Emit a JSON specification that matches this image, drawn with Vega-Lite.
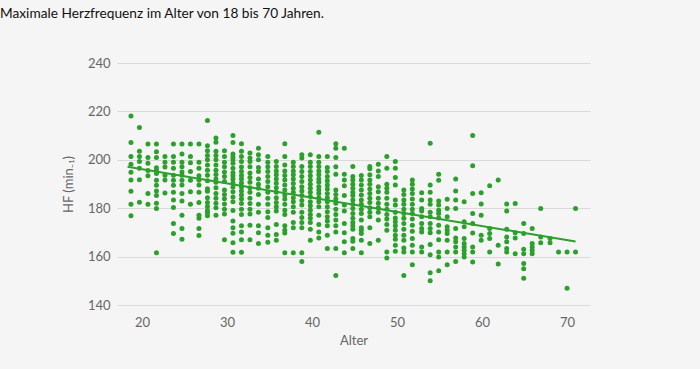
{
"$schema":"https://vega.github.io/schema/vega-lite/v6.json",
"width":473,"height":242,
"autosize":"none",
"padding":{"left":117,"top":63,"right":110,"bottom":64},
"background":"#f5f5f5",
"title":{"text":"Maximale Herzfrequenz im Alter von 18 bis 70 Jahren.","anchor":"start","frame":"group","dx":-117,"offset":36,"fontSize":13.7,"fontWeight":"normal","font":"Lato","color":"#111111"},
"config":{"view":{"stroke":null},"font":"Lato"},
"datasets":{
"fit":[{"Alter":18.3,"HF":197.1},{"Alter":71.0,"HF":166.2}],
"pts":[
{"Alter":18.7,"HF":218.1},{"Alter":18.7,"HF":207.2},{"Alter":18.7,"HF":201.4},{"Alter":18.7,"HF":198.2},{"Alter":18.7,"HF":194.9},{"Alter":18.7,"HF":191.7},{"Alter":18.7,"HF":187.0},{"Alter":18.7,"HF":181.6},{"Alter":18.7,"HF":176.9},
{"Alter":19.7,"HF":213.3},{"Alter":19.7,"HF":203.5},{"Alter":19.7,"HF":201.4},{"Alter":19.7,"HF":199.3},{"Alter":19.7,"HF":196.5},{"Alter":19.7,"HF":191.8},{"Alter":19.7,"HF":182.5},
{"Alter":20.7,"HF":206.5},{"Alter":20.7,"HF":201.0},{"Alter":20.7,"HF":198.6},{"Alter":20.7,"HF":195.6},{"Alter":20.7,"HF":193.4},{"Alter":20.7,"HF":186.1},{"Alter":20.7,"HF":181.6},
{"Alter":21.7,"HF":206.5},{"Alter":21.7,"HF":203.3},{"Alter":21.7,"HF":201.0},{"Alter":21.7,"HF":196.7},{"Alter":21.7,"HF":195.7},{"Alter":21.7,"HF":194.3},{"Alter":21.7,"HF":191.6},{"Alter":21.7,"HF":189.5},{"Alter":21.7,"HF":187.1},{"Alter":21.7,"HF":185.2},{"Alter":21.7,"HF":182.0},{"Alter":21.7,"HF":179.9},{"Alter":21.7,"HF":161.6},
{"Alter":22.7,"HF":201.4},{"Alter":22.7,"HF":199.0},{"Alter":22.7,"HF":197.0},{"Alter":22.7,"HF":193.6},{"Alter":22.7,"HF":191.7},{"Alter":22.7,"HF":186.3},
{"Alter":23.7,"HF":206.5},{"Alter":23.7,"HF":201.4},{"Alter":23.7,"HF":199.0},{"Alter":23.7,"HF":196.5},{"Alter":23.7,"HF":193.6},{"Alter":23.7,"HF":191.6},{"Alter":23.7,"HF":189.5},{"Alter":23.7,"HF":186.6},{"Alter":23.7,"HF":183.4},{"Alter":23.7,"HF":180.3},{"Alter":23.7,"HF":173.7},{"Alter":23.7,"HF":169.5},
{"Alter":24.7,"HF":206.5},{"Alter":24.7,"HF":202.4},{"Alter":24.7,"HF":199.0},{"Alter":24.7,"HF":197.1},{"Alter":24.7,"HF":195.0},{"Alter":24.7,"HF":193.6},{"Alter":24.7,"HF":191.6},{"Alter":24.7,"HF":189.6},{"Alter":24.7,"HF":186.1},{"Alter":24.7,"HF":183.0},{"Alter":24.7,"HF":177.1},{"Alter":24.7,"HF":171.6},{"Alter":24.7,"HF":167.2},
{"Alter":25.7,"HF":206.5},{"Alter":25.7,"HF":201.4},{"Alter":25.7,"HF":198.8},{"Alter":25.7,"HF":195.2},{"Alter":25.7,"HF":191.6},{"Alter":25.7,"HF":186.8},{"Alter":25.7,"HF":181.6},
{"Alter":26.7,"HF":206.5},{"Alter":26.7,"HF":199.0},{"Alter":26.7,"HF":196.5},{"Alter":26.7,"HF":193.4},{"Alter":26.7,"HF":191.7},{"Alter":26.7,"HF":189.6},{"Alter":26.7,"HF":186.6},{"Alter":26.7,"HF":182.4},{"Alter":26.7,"HF":177.1},{"Alter":26.7,"HF":175.8},{"Alter":26.7,"HF":171.6},{"Alter":26.7,"HF":168.7},
{"Alter":27.7,"HF":216.2},{"Alter":27.7,"HF":205.8},{"Alter":27.7,"HF":203.7},{"Alter":27.7,"HF":201.8},{"Alter":27.7,"HF":200.0},{"Alter":27.7,"HF":197.9},{"Alter":27.7,"HF":195.7},{"Alter":27.7,"HF":193.6},{"Alter":27.7,"HF":191.3},{"Alter":27.7,"HF":188.0},{"Alter":27.7,"HF":187.0},{"Alter":27.7,"HF":184.3},{"Alter":27.7,"HF":182.4},{"Alter":27.7,"HF":180.7},{"Alter":27.7,"HF":179.1},{"Alter":27.7,"HF":178.1},{"Alter":27.7,"HF":176.9},
{"Alter":28.7,"HF":209.0},{"Alter":28.7,"HF":207.3},{"Alter":28.7,"HF":203.5},{"Alter":28.7,"HF":201.8},{"Alter":28.7,"HF":200.0},{"Alter":28.7,"HF":197.9},{"Alter":28.7,"HF":195.7},{"Alter":28.7,"HF":193.9},{"Alter":28.7,"HF":192.1},{"Alter":28.7,"HF":190.7},{"Alter":28.7,"HF":188.5},{"Alter":28.7,"HF":186.1},{"Alter":28.7,"HF":184.1},{"Alter":28.7,"HF":182.0},{"Alter":28.7,"HF":180.2},{"Alter":28.7,"HF":177.1},
{"Alter":29.7,"HF":203.7},{"Alter":29.7,"HF":201.4},{"Alter":29.7,"HF":199.0},{"Alter":29.7,"HF":197.1},{"Alter":29.7,"HF":195.0},{"Alter":29.7,"HF":193.1},{"Alter":29.7,"HF":191.0},{"Alter":29.7,"HF":187.5},{"Alter":29.7,"HF":185.7},{"Alter":29.7,"HF":183.9},{"Alter":29.7,"HF":181.7},{"Alter":29.7,"HF":179.6},{"Alter":29.7,"HF":177.6},{"Alter":29.7,"HF":167.0},
{"Alter":30.7,"HF":210.0},{"Alter":30.7,"HF":207.2},{"Alter":30.7,"HF":202.4},{"Alter":30.7,"HF":201.2},{"Alter":30.7,"HF":200.0},{"Alter":30.7,"HF":198.6},{"Alter":30.7,"HF":196.5},{"Alter":30.7,"HF":194.6},{"Alter":30.7,"HF":193.4},{"Alter":30.7,"HF":192.1},{"Alter":30.7,"HF":190.4},{"Alter":30.7,"HF":188.8},{"Alter":30.7,"HF":186.8},{"Alter":30.7,"HF":184.6},{"Alter":30.7,"HF":182.7},{"Alter":30.7,"HF":179.1},{"Alter":30.7,"HF":174.7},{"Alter":30.7,"HF":171.9},{"Alter":30.7,"HF":169.7},{"Alter":30.7,"HF":165.7},{"Alter":30.7,"HF":161.8},
{"Alter":31.7,"HF":206.6},{"Alter":31.7,"HF":203.5},{"Alter":31.7,"HF":201.4},{"Alter":31.7,"HF":199.3},{"Alter":31.7,"HF":197.0},{"Alter":31.7,"HF":195.2},{"Alter":31.7,"HF":193.5},{"Alter":31.7,"HF":192.1},{"Alter":31.7,"HF":190.4},{"Alter":31.7,"HF":188.8},{"Alter":31.7,"HF":187.1},{"Alter":31.7,"HF":185.5},{"Alter":31.7,"HF":183.8},{"Alter":31.7,"HF":181.9},{"Alter":31.7,"HF":179.6},{"Alter":31.7,"HF":177.4},{"Alter":31.7,"HF":172.7},{"Alter":31.7,"HF":170.2},{"Alter":31.7,"HF":167.0},{"Alter":31.7,"HF":161.8},
{"Alter":32.7,"HF":202.8},{"Alter":32.7,"HF":200.7},{"Alter":32.7,"HF":199.3},{"Alter":32.7,"HF":197.1},{"Alter":32.7,"HF":194.5},{"Alter":32.7,"HF":192.7},{"Alter":32.7,"HF":190.7},{"Alter":32.7,"HF":188.5},{"Alter":32.7,"HF":186.6},{"Alter":32.7,"HF":184.1},{"Alter":32.7,"HF":181.9},{"Alter":32.7,"HF":179.6},{"Alter":32.7,"HF":177.6},{"Alter":32.7,"HF":173.0},{"Alter":32.7,"HF":167.0},
{"Alter":33.7,"HF":204.8},{"Alter":33.7,"HF":202.1},{"Alter":33.7,"HF":200.0},{"Alter":33.7,"HF":196.8},{"Alter":33.7,"HF":195.2},{"Alter":33.7,"HF":192.1},{"Alter":33.7,"HF":189.9},{"Alter":33.7,"HF":188.2},{"Alter":33.7,"HF":185.7},{"Alter":33.7,"HF":181.6},{"Alter":33.7,"HF":178.3},{"Alter":33.7,"HF":172.7},{"Alter":33.7,"HF":169.9},{"Alter":33.7,"HF":165.4},
{"Alter":34.8,"HF":201.4},{"Alter":34.8,"HF":199.0},{"Alter":34.8,"HF":197.1},{"Alter":34.8,"HF":195.2},{"Alter":34.8,"HF":193.1},{"Alter":34.8,"HF":191.0},{"Alter":34.8,"HF":188.9},{"Alter":34.8,"HF":186.6},{"Alter":34.8,"HF":184.1},{"Alter":34.8,"HF":181.6},{"Alter":34.8,"HF":178.5},{"Alter":34.8,"HF":176.2},{"Alter":34.8,"HF":171.9},{"Alter":34.8,"HF":168.8},{"Alter":34.8,"HF":165.9},
{"Alter":35.8,"HF":199.3},{"Alter":35.8,"HF":197.2},{"Alter":35.8,"HF":195.4},{"Alter":35.8,"HF":193.8},{"Alter":35.8,"HF":192.1},{"Alter":35.8,"HF":190.3},{"Alter":35.8,"HF":188.5},{"Alter":35.8,"HF":186.6},{"Alter":35.8,"HF":184.3},{"Alter":35.8,"HF":182.4},{"Alter":35.8,"HF":180.6},{"Alter":35.8,"HF":178.8},{"Alter":35.8,"HF":173.3},{"Alter":35.8,"HF":169.1},{"Alter":35.8,"HF":166.8},
{"Alter":36.8,"HF":206.6},{"Alter":36.8,"HF":201.4},{"Alter":36.8,"HF":197.9},{"Alter":36.8,"HF":195.4},{"Alter":36.8,"HF":193.5},{"Alter":36.8,"HF":191.7},{"Alter":36.8,"HF":189.6},{"Alter":36.8,"HF":187.5},{"Alter":36.8,"HF":185.5},{"Alter":36.8,"HF":183.8},{"Alter":36.8,"HF":181.6},{"Alter":36.8,"HF":179.2},{"Alter":36.8,"HF":177.4},{"Alter":36.8,"HF":172.7},{"Alter":36.8,"HF":170.9},{"Alter":36.8,"HF":169.8},{"Alter":36.8,"HF":161.6},
{"Alter":37.8,"HF":199.0},{"Alter":37.8,"HF":197.2},{"Alter":37.8,"HF":195.4},{"Alter":37.8,"HF":193.8},{"Alter":37.8,"HF":192.1},{"Alter":37.8,"HF":190.2},{"Alter":37.8,"HF":188.2},{"Alter":37.8,"HF":186.6},{"Alter":37.8,"HF":184.3},{"Alter":37.8,"HF":182.7},{"Alter":37.8,"HF":180.6},{"Alter":37.8,"HF":178.3},{"Alter":37.8,"HF":174.1},{"Alter":37.8,"HF":171.9},{"Alter":37.8,"HF":161.6},
{"Alter":38.8,"HF":202.1},{"Alter":38.8,"HF":200.7},{"Alter":38.8,"HF":197.2},{"Alter":38.8,"HF":195.2},{"Alter":38.8,"HF":193.1},{"Alter":38.8,"HF":191.0},{"Alter":38.8,"HF":188.9},{"Alter":38.8,"HF":187.1},{"Alter":38.8,"HF":185.2},{"Alter":38.8,"HF":183.2},{"Alter":38.8,"HF":181.3},{"Alter":38.8,"HF":178.3},{"Alter":38.8,"HF":176.2},{"Alter":38.8,"HF":174.1},{"Alter":38.8,"HF":171.9},{"Alter":38.8,"HF":161.6},{"Alter":38.8,"HF":158.0},
{"Alter":39.8,"HF":202.1},{"Alter":39.8,"HF":199.0},{"Alter":39.8,"HF":197.2},{"Alter":39.8,"HF":195.2},{"Alter":39.8,"HF":193.4},{"Alter":39.8,"HF":191.7},{"Alter":39.8,"HF":189.9},{"Alter":39.8,"HF":188.2},{"Alter":39.8,"HF":186.6},{"Alter":39.8,"HF":184.8},{"Alter":39.8,"HF":182.7},{"Alter":39.8,"HF":181.0},{"Alter":39.8,"HF":179.2},{"Alter":39.8,"HF":177.4},{"Alter":39.8,"HF":175.8},{"Alter":39.8,"HF":174.1},{"Alter":39.8,"HF":171.3},{"Alter":39.8,"HF":166.8},
{"Alter":40.8,"HF":211.4},{"Alter":40.8,"HF":201.4},{"Alter":40.8,"HF":199.0},{"Alter":40.8,"HF":197.2},{"Alter":40.8,"HF":195.4},{"Alter":40.8,"HF":193.8},{"Alter":40.8,"HF":192.1},{"Alter":40.8,"HF":190.7},{"Alter":40.8,"HF":188.9},{"Alter":40.8,"HF":187.5},{"Alter":40.8,"HF":186.1},{"Alter":40.8,"HF":184.3},{"Alter":40.8,"HF":182.7},{"Alter":40.8,"HF":180.6},{"Alter":40.8,"HF":177.1},{"Alter":40.8,"HF":173.3},{"Alter":40.8,"HF":170.2},{"Alter":40.8,"HF":167.7},
{"Alter":41.8,"HF":201.4},{"Alter":41.8,"HF":196.8},{"Alter":41.8,"HF":195.2},{"Alter":41.8,"HF":193.1},{"Alter":41.8,"HF":191.3},{"Alter":41.8,"HF":189.6},{"Alter":41.8,"HF":187.9},{"Alter":41.8,"HF":186.1},{"Alter":41.8,"HF":184.3},{"Alter":41.8,"HF":182.7},{"Alter":41.8,"HF":180.6},{"Alter":41.8,"HF":178.5},{"Alter":41.8,"HF":176.5},{"Alter":41.8,"HF":174.7},{"Alter":41.8,"HF":172.7},{"Alter":41.8,"HF":168.8},{"Alter":41.8,"HF":163.3},
{"Alter":42.8,"HF":206.6},{"Alter":42.8,"HF":204.8},{"Alter":42.8,"HF":201.0},{"Alter":42.8,"HF":197.1},{"Alter":42.8,"HF":194.0},{"Alter":42.8,"HF":187.5},{"Alter":42.8,"HF":185.7},{"Alter":42.8,"HF":183.8},{"Alter":42.8,"HF":182.0},{"Alter":42.8,"HF":179.6},{"Alter":42.8,"HF":177.4},{"Alter":42.8,"HF":175.1},{"Alter":42.8,"HF":172.7},{"Alter":42.8,"HF":170.2},{"Alter":42.8,"HF":163.3},{"Alter":42.8,"HF":152.2},
{"Alter":43.8,"HF":204.8},{"Alter":43.8,"HF":194.0},{"Alter":43.8,"HF":191.7},{"Alter":43.8,"HF":189.3},{"Alter":43.8,"HF":185.2},{"Alter":43.8,"HF":181.3},{"Alter":43.8,"HF":178.8},{"Alter":43.8,"HF":173.7},{"Alter":43.8,"HF":169.9},{"Alter":43.8,"HF":166.1},{"Alter":43.8,"HF":161.6},
{"Alter":44.8,"HF":197.2},{"Alter":44.8,"HF":193.1},{"Alter":44.8,"HF":191.7},{"Alter":44.8,"HF":189.9},{"Alter":44.8,"HF":188.2},{"Alter":44.8,"HF":186.6},{"Alter":44.8,"HF":185.2},{"Alter":44.8,"HF":183.4},{"Alter":44.8,"HF":181.6},{"Alter":44.8,"HF":179.9},{"Alter":44.8,"HF":177.8},{"Alter":44.8,"HF":175.8},{"Alter":44.8,"HF":174.1},{"Alter":44.8,"HF":172.7},{"Alter":44.8,"HF":171.3},{"Alter":44.8,"HF":167.5},{"Alter":44.8,"HF":166.3},{"Alter":44.8,"HF":163.3},
{"Alter":45.8,"HF":193.5},{"Alter":45.8,"HF":191.7},{"Alter":45.8,"HF":189.6},{"Alter":45.8,"HF":187.5},{"Alter":45.8,"HF":185.5},{"Alter":45.8,"HF":183.4},{"Alter":45.8,"HF":181.6},{"Alter":45.8,"HF":179.6},{"Alter":45.8,"HF":177.8},{"Alter":45.8,"HF":175.1},{"Alter":45.8,"HF":171.9},{"Alter":45.8,"HF":170.9},{"Alter":45.8,"HF":169.5},{"Alter":45.8,"HF":166.8},{"Alter":45.8,"HF":161.6},
{"Alter":46.8,"HF":197.2},{"Alter":46.8,"HF":196.3},{"Alter":46.8,"HF":193.8},{"Alter":46.8,"HF":191.7},{"Alter":46.8,"HF":189.9},{"Alter":46.8,"HF":187.9},{"Alter":46.8,"HF":186.1},{"Alter":46.8,"HF":184.1},{"Alter":46.8,"HF":182.4},{"Alter":46.8,"HF":180.2},{"Alter":46.8,"HF":178.3},{"Alter":46.8,"HF":176.5},{"Alter":46.8,"HF":171.9},{"Alter":46.8,"HF":165.4},
{"Alter":47.8,"HF":198.2},{"Alter":47.8,"HF":195.4},{"Alter":47.8,"HF":193.1},{"Alter":47.8,"HF":188.9},{"Alter":47.8,"HF":186.8},{"Alter":47.8,"HF":184.1},{"Alter":47.8,"HF":182.0},{"Alter":47.8,"HF":180.2},{"Alter":47.8,"HF":178.3},{"Alter":47.8,"HF":175.1},{"Alter":47.8,"HF":166.8},
{"Alter":48.8,"HF":201.4},{"Alter":48.8,"HF":196.5},{"Alter":48.8,"HF":189.9},{"Alter":48.8,"HF":188.2},{"Alter":48.8,"HF":186.6},{"Alter":48.8,"HF":184.1},{"Alter":48.8,"HF":181.6},{"Alter":48.8,"HF":179.6},{"Alter":48.8,"HF":177.4},{"Alter":48.8,"HF":175.5},{"Alter":48.8,"HF":173.3},{"Alter":48.8,"HF":170.9},{"Alter":48.8,"HF":161.9},{"Alter":48.8,"HF":159.4},
{"Alter":49.8,"HF":199.3},{"Alter":49.8,"HF":196.5},{"Alter":49.8,"HF":192.7},{"Alter":49.8,"HF":189.6},{"Alter":49.8,"HF":183.4},{"Alter":49.8,"HF":181.3},{"Alter":49.8,"HF":178.3},{"Alter":49.8,"HF":176.0},{"Alter":49.8,"HF":174.4},{"Alter":49.8,"HF":172.7},{"Alter":49.8,"HF":170.9},{"Alter":49.8,"HF":168.8},{"Alter":49.8,"HF":167.2},{"Alter":49.8,"HF":164.7},{"Alter":49.8,"HF":162.2},
{"Alter":50.8,"HF":187.5},{"Alter":50.8,"HF":185.7},{"Alter":50.8,"HF":183.4},{"Alter":50.8,"HF":181.6},{"Alter":50.8,"HF":179.6},{"Alter":50.8,"HF":177.8},{"Alter":50.8,"HF":175.8},{"Alter":50.8,"HF":173.7},{"Alter":50.8,"HF":171.3},{"Alter":50.8,"HF":168.8},{"Alter":50.8,"HF":166.8},{"Alter":50.8,"HF":163.6},{"Alter":50.8,"HF":161.9},{"Alter":50.8,"HF":152.2},
{"Alter":51.8,"HF":191.7},{"Alter":51.8,"HF":189.9},{"Alter":51.8,"HF":187.9},{"Alter":51.8,"HF":186.1},{"Alter":51.8,"HF":183.8},{"Alter":51.8,"HF":181.6},{"Alter":51.8,"HF":179.6},{"Alter":51.8,"HF":177.8},{"Alter":51.8,"HF":175.5},{"Alter":51.8,"HF":173.0},{"Alter":51.8,"HF":170.5},{"Alter":51.8,"HF":167.5},{"Alter":51.8,"HF":164.7},{"Alter":51.8,"HF":161.9},{"Alter":51.8,"HF":156.6},
{"Alter":52.9,"HF":186.4},{"Alter":52.9,"HF":183.4},{"Alter":52.9,"HF":179.9},{"Alter":52.9,"HF":178.8},{"Alter":52.9,"HF":176.5},{"Alter":52.9,"HF":173.7},{"Alter":52.9,"HF":171.6},{"Alter":52.9,"HF":170.2},{"Alter":52.9,"HF":164.0},{"Alter":52.9,"HF":161.9},
{"Alter":53.9,"HF":206.8},{"Alter":53.9,"HF":189.6},{"Alter":53.9,"HF":186.6},{"Alter":53.9,"HF":183.4},{"Alter":53.9,"HF":181.6},{"Alter":53.9,"HF":178.3},{"Alter":53.9,"HF":176.5},{"Alter":53.9,"HF":173.7},{"Alter":53.9,"HF":171.6},{"Alter":53.9,"HF":169.9},{"Alter":53.9,"HF":165.0},{"Alter":53.9,"HF":160.8},{"Alter":53.9,"HF":153.3},{"Alter":53.9,"HF":150.0},
{"Alter":54.9,"HF":194.0},{"Alter":54.9,"HF":191.6},{"Alter":54.9,"HF":183.0},{"Alter":54.9,"HF":181.3},{"Alter":54.9,"HF":179.2},{"Alter":54.9,"HF":177.8},{"Alter":54.9,"HF":176.0},{"Alter":54.9,"HF":173.0},{"Alter":54.9,"HF":170.2},{"Alter":54.9,"HF":167.0},{"Alter":54.9,"HF":161.9},{"Alter":54.9,"HF":159.8},{"Alter":54.9,"HF":154.2},
{"Alter":55.9,"HF":183.7},{"Alter":55.9,"HF":179.9},{"Alter":55.9,"HF":176.5},{"Alter":55.9,"HF":172.3},{"Alter":55.9,"HF":170.9},{"Alter":55.9,"HF":169.5},{"Alter":55.9,"HF":166.8},{"Alter":55.9,"HF":161.9},{"Alter":55.9,"HF":156.6},
{"Alter":56.9,"HF":192.1},{"Alter":56.9,"HF":187.1},{"Alter":56.9,"HF":183.4},{"Alter":56.9,"HF":179.9},{"Alter":56.9,"HF":171.6},{"Alter":56.9,"HF":167.7},{"Alter":56.9,"HF":166.1},{"Alter":56.9,"HF":164.0},{"Alter":56.9,"HF":161.9},{"Alter":56.9,"HF":158.0},
{"Alter":57.9,"HF":182.7},{"Alter":57.9,"HF":174.4},{"Alter":57.9,"HF":172.3},{"Alter":57.9,"HF":167.5},{"Alter":57.9,"HF":165.4},{"Alter":57.9,"HF":164.0},{"Alter":57.9,"HF":162.6},{"Alter":57.9,"HF":161.2},{"Alter":57.9,"HF":159.8},
{"Alter":58.9,"HF":210.0},{"Alter":58.9,"HF":197.5},{"Alter":58.9,"HF":186.1},{"Alter":58.9,"HF":177.8},{"Alter":58.9,"HF":173.7},{"Alter":58.9,"HF":169.8},{"Alter":58.9,"HF":164.0},{"Alter":58.9,"HF":161.9},{"Alter":58.9,"HF":157.8},
{"Alter":59.9,"HF":186.4},{"Alter":59.9,"HF":181.7},{"Alter":59.9,"HF":177.1},{"Alter":59.9,"HF":168.8},{"Alter":59.9,"HF":166.8},
{"Alter":60.9,"HF":189.3},{"Alter":60.9,"HF":171.6},{"Alter":60.9,"HF":169.5},{"Alter":60.9,"HF":167.5},{"Alter":60.9,"HF":161.9},
{"Alter":61.9,"HF":191.7},{"Alter":61.9,"HF":164.7},{"Alter":61.9,"HF":156.9},
{"Alter":62.9,"HF":181.7},{"Alter":62.9,"HF":178.8},{"Alter":62.9,"HF":171.3},{"Alter":62.9,"HF":168.1},{"Alter":62.9,"HF":166.1},{"Alter":62.9,"HF":163.3},{"Alter":62.9,"HF":161.9},
{"Alter":63.9,"HF":181.9},{"Alter":63.9,"HF":169.9},{"Alter":63.9,"HF":167.7},{"Alter":63.9,"HF":161.2},
{"Alter":64.9,"HF":173.7},{"Alter":64.9,"HF":169.5},{"Alter":64.9,"HF":163.0},{"Alter":64.9,"HF":161.2},{"Alter":64.9,"HF":157.1},{"Alter":64.9,"HF":155.0},{"Alter":64.9,"HF":151.1},
{"Alter":65.9,"HF":171.6},{"Alter":65.9,"HF":165.4},{"Alter":65.9,"HF":164.0},{"Alter":65.9,"HF":162.6},{"Alter":65.9,"HF":161.2},
{"Alter":66.9,"HF":179.9},{"Alter":66.9,"HF":168.1},{"Alter":66.9,"HF":165.7},
{"Alter":68.0,"HF":167.5},{"Alter":68.0,"HF":165.7},
{"Alter":69.0,"HF":161.9},
{"Alter":70.0,"HF":161.9},{"Alter":70.0,"HF":146.9},
{"Alter":71.0,"HF":179.9},{"Alter":71.0,"HF":161.9}
]},
"encoding":{
"x":{"field":"Alter","type":"quantitative","scale":{"domain":[17.06,72.7],"nice":false,"zero":false},
"axis":{"title":"Alter","values":[20,30,40,50,60,70],"grid":false,"ticks":false,"domain":false,"labelPadding":11,"labelFontSize":13,"labelColor":"#666666","titleFontSize":13,"titleFontWeight":"normal","titleColor":"#666666","titlePadding":5,"labelFont":"Lato","titleFont":"Lato"}},
"y":{"field":"HF","type":"quantitative","scale":{"domain":[140,240],"nice":false,"zero":false},
"axis":{"title":"HF (min₋₁)","values":[140,160,180,200,220,240],"grid":true,"gridColor":"#d9d9d9","gridWidth":1,"ticks":false,"domain":false,"labelPadding":7,"labelFontSize":13,"labelColor":"#666666","titleFontSize":13,"titleFontWeight":"normal","titleColor":"#666666","titlePadding":12,"labelFont":"Lato","titleFont":"Lato"}}
},
"layer":[
{"data":{"name":"pts"},"mark":{"type":"circle","size":25,"opacity":1,"color":"#2ca02c"}},
{"data":{"name":"fit"},"mark":{"type":"line","color":"#2ca02c","strokeWidth":2}}
]
}
